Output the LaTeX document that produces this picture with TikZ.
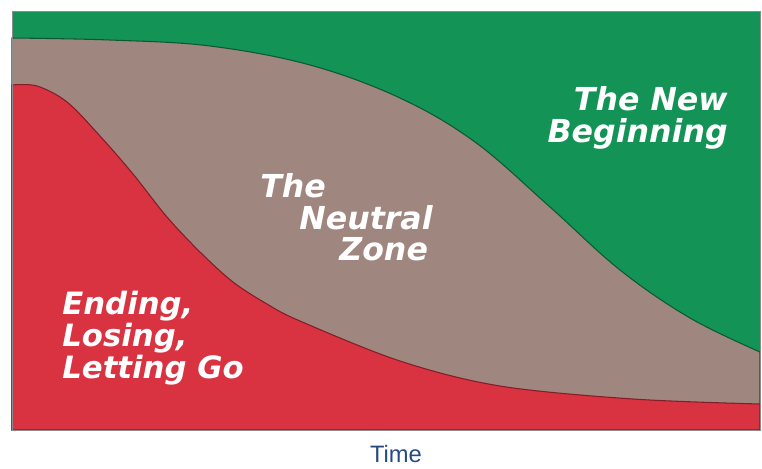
\documentclass[tikz,border=0pt]{standalone}
\usepackage{fontspec}
\newfontfamily\zonefont{DejaVu Sans}
\newfontfamily\axisfont{Liberation Sans}
\usetikzlibrary{calc}

\definecolor{newgreen}{RGB}{19,147,86}
\definecolor{neutralbrown}{RGB}{159,134,126}
\definecolor{endingred}{RGB}{217,50,65}
\definecolor{timeblue}{RGB}{38,74,128}

\begin{document}
\begin{tikzpicture} [x=0.02cm, y=-0.02cm,
				zone/.style={
				% The text:
				text=white,
				font=\zonefont\bfseries\itshape\fontsize{18}{18}\selectfont,
				% The box:
				inner sep=0pt
				},
				endzone/.style={
				zone,
				font=\zonefont\bfseries\itshape\fontsize{17.5}{17}\selectfont
				},
				boundary/.style={
				% The border:
				line width=0.6pt
				},
				]
    \useasboundingbox (0,0) rectangle (762,468);
    % the new beginning (background)
    \fill [newgreen] (12,11) rectangle (760,430);
    % the neutral zone
    \filldraw [boundary, fill=neutralbrown, draw=newgreen!60!black]
        plot [smooth, tension=0.6] coordinates {(12,38) (110,40) (210,46) (310,65) (400,98) (475,142) (550,207) (620,270) (690,318) (760,352)}
        -- (760,430) -- (12,430) -- cycle;
    % ending, losing, letting go
    \filldraw [boundary, fill=endingred, draw=endingred!60!black]
        plot [smooth, tension=0.55] coordinates {(12,85) (37,86) (67,102) (100,136) (133,174) (167,217) (200,252) (233,282) (267,304) (300,321) (400,361) (500,386) (633,399) (760,404)}
        -- (760,430) -- (12,430) -- cycle;
    % frame
    \draw [black!45, line width=0.5pt] (12,11) rectangle (760,430);

    \node [zone, anchor=north east, align=right] (beginning) at (728,86) {The New\\Beginning};
    \node [zone, anchor=north west, align=left] (neutral) at (260,173) {The\\\hspace*{0.78cm}Neutral\\\hspace*{1.58cm}Zone};
    \node [endzone, anchor=north west, align=left] (ending) at (62,291) {Ending,\\Losing,\\Letting Go};
    \node [font=\axisfont\fontsize{13.5}{16}\selectfont, text=timeblue, anchor=base] (time) at (396,462) {Time};
\end{tikzpicture}
\end{document}
